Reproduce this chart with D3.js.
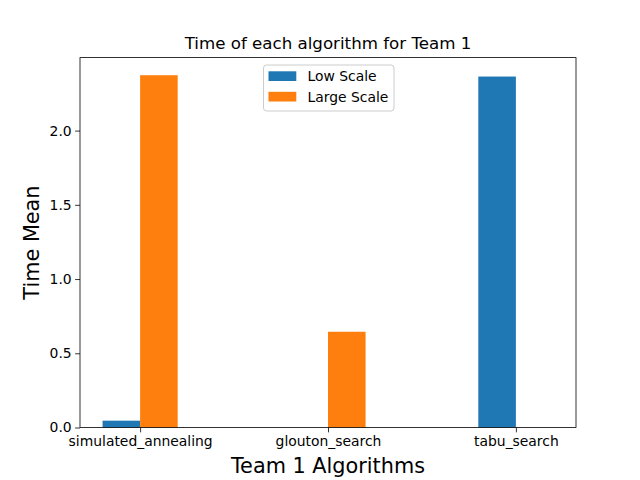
<!DOCTYPE html>
<html>
<head>
<meta charset="utf-8">
<script src="https://cdn.jsdelivr.net/npm/d3@7"></script>
<style>
body { margin: 0; background: #fff; }
svg { display: block; font-family: "DejaVu Sans", sans-serif; }
</style>
</head>
<body>
<svg id="chart" width="640" height="480"></svg>
<script>
const categories = ["simulated_annealing", "glouton_search", "tabu_search"];
const seriesNames = ["Low Scale", "Large Scale"];
const lowScale = [0.046, 0.0, 2.364];
const largeScale = [2.373, 0.645, 0.0];
const yTicks = [0.0, 0.5, 1.0, 1.5, 2.0];
const colors = ["#1f77b4", "#ff7f0e"];

const svg = d3.select("#chart");
const mLeft = 80, mRight = 576, mTop = 57.6, mBottom = 427.5;

const barW = 0.2;
const x = d3.scaleLinear().domain([-0.32, 2.32]).range([mLeft, mRight]);
const ymax = d3.max(lowScale.concat(largeScale)) * 1.05;
const y = d3.scaleLinear().domain([0, ymax]).range([mBottom, mTop]);

svg.append("rect").attr("x", 0).attr("y", 0).attr("width", 640).attr("height", 480).attr("fill", "#fff");

const series = [lowScale, largeScale];
series.forEach((vals, s) => {
  svg.append("g").selectAll("rect").data(vals).join("rect")
    .attr("x", (d, i) => x(i + (s === 0 ? -barW : 0)))
    .attr("width", (d, i) => x(i + barW) - x(i))
    .attr("y", d => y(d))
    .attr("height", d => y(0) - y(d))
    .attr("fill", colors[s]);
});

// axes
const xAxis = d3.axisBottom(x).tickValues([0, 1, 2]).tickFormat(i => categories[i]).tickSizeOuter(0).tickSize(4.86).tickPadding(3.5);
const gx = svg.append("g").attr("transform", `translate(0,${mBottom})`).call(xAxis);
gx.select(".domain").remove();
gx.selectAll("line").attr("stroke", "#000").attr("stroke-width", 0.8);
gx.selectAll("text").attr("font-size", "13.9px").attr("fill", "#000").attr("font-family", "DejaVu Sans");

const yAxis = d3.axisLeft(y).tickValues(yTicks).tickFormat(d3.format(".1f")).tickSizeOuter(0).tickSize(4.86).tickPadding(3.5);
const gy = svg.append("g").attr("transform", `translate(${mLeft},0)`).call(yAxis);
gy.select(".domain").remove();
gy.selectAll("line").attr("stroke", "#000").attr("stroke-width", 0.8);
gy.selectAll("text").attr("font-size", "13.9px").attr("fill", "#000").attr("font-family", "DejaVu Sans");

svg.append("rect").attr("x", mLeft).attr("y", mTop).attr("width", mRight - mLeft).attr("height", mBottom - mTop)
  .attr("fill", "none").attr("stroke", "#000").attr("stroke-width", 0.8);

// title & labels
svg.append("text").attr("x", (mLeft + mRight) / 2).attr("y", 49).attr("text-anchor", "middle")
  .attr("font-size", "16.67px").attr("fill", "#000").text("Time of each algorithm for Team 1");
svg.append("text").attr("x", (mLeft + mRight) / 2).attr("y", 472.5).attr("text-anchor", "middle")
  .attr("font-size", "20.8px").attr("fill", "#000").text("Team 1 Algorithms");
svg.append("text").attr("transform", `translate(38.5,${(mTop + mBottom) / 2}) rotate(-90)`).attr("text-anchor", "middle")
  .attr("font-size", "20.8px").attr("fill", "#000").text("Time Mean");

// legend
const lg = svg.append("g");
lg.append("rect").attr("x", 263.5).attr("y", 65).attr("width", 130.5).attr("height", 46).attr("rx", 3)
  .attr("fill", "#fff").attr("fill-opacity", 0.8).attr("stroke", "#cccccc").attr("stroke-width", 1);
seriesNames.forEach((n, i) => {
  lg.append("rect").attr("x", 268.5).attr("y", 71.3 + i * 20.5).attr("width", 27.8).attr("height", 9.7).attr("fill", colors[i]);
  lg.append("text").attr("x", 307.5).attr("y", 81 + i * 20.5).attr("font-size", "13.9px").attr("fill", "#000").text(n);
});
</script>
</body>
</html>
